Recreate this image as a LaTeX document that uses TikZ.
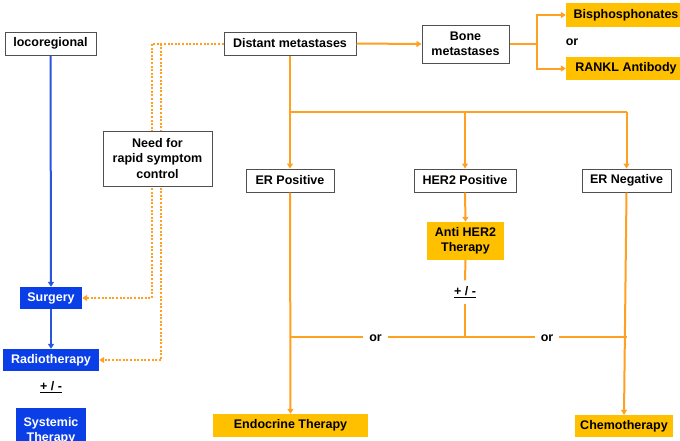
\documentclass[tikz,border=0pt]{standalone}
\usepackage{fontspec}
\setmainfont{Liberation Sans}
\usetikzlibrary{arrows.meta}
\definecolor{ornline}{HTML}{FFA020}
\definecolor{ornfill}{HTML}{FFC000}
\definecolor{bluefill}{HTML}{0A3FE8}
\definecolor{blueline}{HTML}{2A55E0}
\definecolor{boxline}{HTML}{505050}
\begin{document}
\begin{tikzpicture}[x=1pt,y=-1pt,
  font=\fontsize{12.5}{15.5}\selectfont\bfseries,
  wbox/.style={draw=boxline,line width=1pt,fill=white,inner sep=0pt,align=center},
  obox/.style={fill=ornfill,inner sep=0pt,align=center},
  bbox/.style={fill=bluefill,text=white,inner sep=0pt,align=center},
  oline/.style={draw=ornline,line width=2pt},
  oarrow/.style={oline,-{Triangle[width=6pt,length=5pt]}},
  barrow/.style={draw=blueline,line width=2pt,-{Triangle[width=6pt,length=5pt]}},
  dotarrow/.style={draw=ornline,line width=2pt,dash pattern=on 2pt off 1.6pt,-{Triangle[width=6pt,length=5pt]}},
  lbl/.style={fill=white,inner sep=0pt}
]
\useasboundingbox (0,0) rectangle (680,440);

% nodes
\node[wbox,minimum width=91,minimum height=23] (loco) at (50.5,43.5) {locoregional};
\node[wbox,minimum width=132,minimum height=23] (dist) at (290,43.5) {Distant metastases};
\node[wbox,minimum width=87,minimum height=38] (bone) at (465.5,44) {Bone\\metastases};
\node[obox,minimum width=120,minimum height=24] (bis) at (626,15) {Bisphosphonates};
\node[obox,minimum width=120,minimum height=23] (rankl) at (626,68.5) {RANKL Antibody};
\node[inner sep=0pt] (or1) at (572,42) {or};
\node[wbox,minimum width=88,minimum height=23] (erp) at (290,180.5) {ER Positive};
\node[wbox,minimum width=102,minimum height=23] (her2) at (465,180.5) {HER2 Positive};
\node[wbox,minimum width=89,minimum height=23] (ern) at (626.5,180.5) {ER Negative};
\node[obox,minimum width=77,minimum height=38] (anti) at (465.5,241) {Anti HER2\\Therapy};
\node[lbl,minimum height=23] (pm2) at (465,292) {\underline{+ / -}};
\node[obox,minimum width=155,minimum height=23] (endo) at (290.5,425.5) {Endocrine Therapy};
\node[obox,minimum width=98,minimum height=22] (chemo) at (624,426) {Chemotherapy};
\node[bbox,minimum width=62,minimum height=22] (surg) at (51,298) {Surgery};
\node[bbox,minimum width=96,minimum height=22] (radio) at (51,360) {Radiotherapy};
\node[inner sep=0pt] (pm1) at (51,387) {\underline{+ / -}};
\node[bbox,minimum width=70,minimum height=46] (sys) at (51,431) {Systemic\\Therapy};

% coordinates
\coordinate (split) at (290,112);
\coordinate (splitR) at (626.5,112);
\coordinate (splitM) at (465,112);
\coordinate (bsplit) at (537,44);
\coordinate (joinL) at (290,337);
\coordinate (joinM) at (465,337);
\coordinate (joinR) at (626.5,337);
\coordinate (dA) at (152,43.5);
\coordinate (dB) at (161,43.5);

% distant metastases tree
\draw[oarrow] (dist.south) -- (split) -- (erp.north);
\draw[oline] (split) -- (splitR);
\draw[oarrow] (splitM) -- (her2.north);
\draw[oarrow] (splitR) -- (ern.north);
\draw[oarrow] (dist.east) -- (bone.west);
\draw[oline] (bone.east) -- (bsplit);
\draw[oarrow] (bsplit) |- (bis.west);
\draw[oarrow] (bsplit) |- (rankl.west);
\draw[oarrow] (erp.south) -- (endo.north);
\draw[oarrow] (ern.south) -- (chemo.north);
\draw[oarrow] (her2.south) -- (anti.north);
\draw[oline] (anti.south) -- (pm2.north);
\draw[oline] (pm2.south) -- (joinM);
\draw[oline] (joinL) -- (joinR);
\node[lbl,minimum width=25,minimum height=12] (or2) at (375.5,338) {or};
\node[lbl,minimum width=24,minimum height=12] (or3) at (547,338) {or};

% locoregional
\draw[barrow] (loco.south) -- (surg.north);
\draw[barrow] (surg.south) -- (radio.north);

% dotted symptom control paths
\draw[dotarrow] (dist.west) -- (dA) -- (dA |- surg.east) -- (surg.east);
\draw[dotarrow] (dB) -- (dB |- radio.east) -- (radio.east);

\node[wbox,minimum width=109,minimum height=55] (need) at (157.5,158.5) {Need for\\rapid symptom\\control};
\end{tikzpicture}
\end{document}
